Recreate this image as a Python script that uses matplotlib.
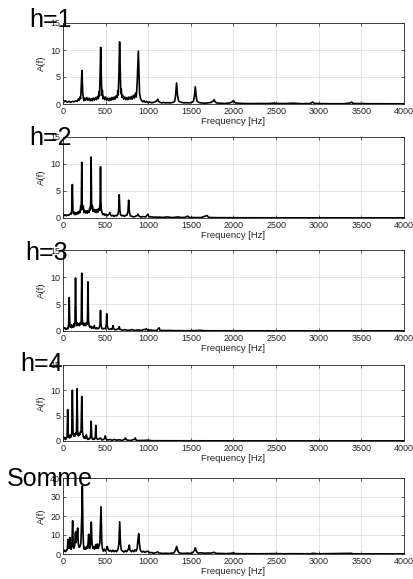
import matplotlib
matplotlib.use("Agg")
import matplotlib.pyplot as plt

plt.rcParams['font.family'] = ['Liberation Sans', 'DejaVu Sans']

# ---------------- data (frequency [Hz], amplitude) ----------------
h1_f = [0, 15, 30, 50, 70, 90, 110, 130, 150, 165, 180, 190, 200, 206, 212, 222, 232, 238, 245, 255,
        265, 280, 292, 305, 318, 330, 342, 355, 368, 380, 392, 405, 415, 422, 428, 433, 442, 451, 456, 462,
        468, 475, 488, 500, 512, 525, 538, 550, 562, 575, 588, 600, 612, 625, 636, 642, 648, 655, 664, 673,
        678, 684, 690, 700, 712, 725, 738, 750, 762, 775, 788, 800, 812, 825, 838, 850, 860, 864, 870, 884,
        892, 898, 904, 910, 920, 935, 950, 965, 980, 1000, 1020, 1040, 1060, 1080, 1100, 1110, 1120, 1140,
        1160, 1180, 1200, 1230, 1260, 1290, 1310, 1320, 1332, 1344, 1355, 1370, 1390, 1420, 1450, 1480,
        1510, 1530, 1542, 1552, 1562, 1572, 1590, 1620, 1660, 1700, 1740, 1765, 1772, 1780, 1800, 1850,
        1900, 1960, 1985, 1995, 2005, 2020, 2100, 2200, 2300, 2400, 2470, 2480, 2490, 2600, 2700, 2800,
        2900, 2930, 2950, 3100, 3300, 3370, 3385, 3400, 3600, 3800, 4000]
h1_a = [0.8, 0.4, 0.6, 0.3, 0.5, 0.3, 0.5, 0.4, 0.6, 0.5, 0.9, 0.7, 1.3, 1.0, 2.5, 6.2, 2.0, 1.2, 0.6, 1.1,
        0.7, 1.2, 0.7, 1.1, 0.6, 1.0, 0.6, 1.1, 0.7, 1.2, 0.8, 1.4, 1.0, 2.3, 1.5, 4.0, 10.5, 4.0, 1.6, 2.5,
        1.0, 1.4, 0.8, 1.3, 0.7, 1.1, 0.6, 1.1, 0.7, 1.2, 0.8, 1.3, 0.9, 1.5, 1.2, 2.5, 1.7, 5.0, 11.5, 5.0,
        2.0, 2.8, 1.2, 1.6, 0.9, 1.3, 0.8, 1.2, 0.8, 1.3, 0.9, 1.4, 0.9, 1.6, 1.1, 2.0, 1.3, 2.4, 4.0, 9.8,
        5.0, 2.0, 1.4, 1.0, 0.7, 0.4, 0.6, 0.3, 0.5, 0.2, 0.4, 0.2, 0.3, 0.4, 0.6, 0.9, 0.5, 0.3,
        0.2, 0.3, 0.2, 0.25, 0.2, 0.3, 0.5, 1.5, 3.9, 1.5, 0.6, 0.4, 0.3, 0.2, 0.25, 0.2,
        0.3, 0.5, 1.5, 3.2, 1.5, 0.5, 0.3, 0.2, 0.15, 0.2, 0.3, 0.6, 0.8, 0.5, 0.2, 0.15,
        0.1, 0.2, 0.4, 0.6, 0.5, 0.2, 0.1, 0.08, 0.1, 0.08, 0.15, 0.2, 0.1, 0.08, 0.15, 0.05,
        0.1, 0.35, 0.1, 0.05, 0.05, 0.2, 0.35, 0.1, 0.05, 0.03, 0.03]

h2_f = [0, 10, 25, 40, 55, 70, 85, 95, 102, 110, 116, 122, 132, 142, 152, 162, 172, 182, 192, 200,
        208, 214, 220, 226, 232, 238, 245, 255, 265, 275, 285, 295, 305, 314, 320, 325, 330, 335, 340, 346,
        352, 362, 372, 382, 392, 402, 412, 422, 430, 435, 440, 445, 450, 458, 468, 480, 492, 505, 518, 530,
        542, 550, 558, 570, 585, 600, 615, 630, 645, 653, 660, 667, 675, 690, 705, 720, 735, 750, 762, 770,
        778, 790, 810, 830, 850, 872, 880, 888, 910, 940, 970, 985, 995, 1005, 1030, 1080, 1130, 1180, 1230,
        1260, 1300, 1350, 1380, 1430, 1460, 1480, 1550, 1620, 1690, 1710, 1800, 2000, 2200, 2400, 2600,
        3000, 3500, 4000]
h2_a = [0.8, 0.4, 0.6, 0.4, 0.6, 0.5, 0.8, 0.7, 1.5, 6.2, 1.5, 0.8, 1.1, 0.6, 1.0, 0.7, 1.1, 0.8, 1.3, 1.0,
        2.3, 1.5, 10.3, 2.0, 1.6, 2.2, 1.0, 1.4, 0.9, 1.3, 0.9, 1.4, 1.0, 1.8, 1.5, 3.0, 11.3, 3.0, 1.7, 2.2,
        1.2, 1.6, 1.1, 1.5, 1.0, 1.6, 1.1, 1.8, 1.4, 3.0, 9.5, 3.0, 1.5, 1.0, 0.6, 0.8, 0.5, 0.7, 0.4, 0.6,
        0.7, 1.0, 0.6, 0.4, 0.5, 0.3, 0.5, 0.4, 0.7, 1.5, 4.3, 1.5, 0.6, 0.4, 0.5, 0.3, 0.5, 0.5, 1.2, 3.3,
        1.2, 0.4, 0.3, 0.2, 0.3, 0.5, 0.7, 0.4, 0.2, 0.25, 0.2, 0.5, 0.7, 0.3, 0.2, 0.15, 0.15, 0.12, 0.2,
        0.1, 0.1, 0.2, 0.1, 0.1, 0.35, 0.1, 0.08, 0.08, 0.45, 0.1, 0.06, 0.05, 0.04, 0.04, 0.03,
        0.03, 0.03, 0.03]

h3_f = [0, 10, 22, 35, 48, 58, 66, 73, 80, 86, 94, 102, 110, 118, 126, 134, 140, 147, 154, 160,
        168, 176, 184, 192, 200, 208, 214, 220, 226, 232, 240, 248, 256, 264, 272, 280, 287, 293, 299, 306,
        315, 325, 335, 345, 355, 362, 367, 373, 385, 395, 410, 425, 434, 440, 446, 455, 470, 485, 498, 507,
        513, 519, 530, 545, 560, 575, 582, 587, 592, 610, 630, 650, 660, 668, 700, 733, 760, 807, 840, 880,
        920, 953, 965, 977, 990, 1027, 1060, 1100, 1126, 1140, 1200, 1246, 1300, 1400, 1500, 1620, 1650,
        1800, 2000, 2500, 3000, 4000]
h3_a = [0.8, 0.4, 0.6, 0.3, 0.5, 0.4, 1.2, 6.2, 1.2, 0.7, 1.2, 0.6, 1.0, 0.7, 1.3, 0.8, 1.8, 9.8, 1.8, 1.0,
        1.5, 1.0, 1.4, 1.0, 1.5, 1.2, 2.0, 10.7, 2.0, 1.2, 1.5, 1.0, 1.4, 1.0, 1.5, 1.2, 2.0, 9.1, 2.0, 1.0,
        0.7, 0.9, 0.5, 0.7, 0.5, 0.8, 1.0, 0.6, 0.4, 0.6, 0.4, 0.6, 1.2, 3.8, 1.2, 0.5, 0.4, 0.5, 0.4, 1.0,
        3.2, 1.0, 0.4, 0.3, 0.4, 0.3, 0.7, 1.0, 0.5, 0.2, 0.3, 0.4, 0.8, 0.3, 0.15, 0.25, 0.1, 0.25, 0.1, 0.2,
        0.1, 0.3, 0.2, 0.45, 0.15, 0.2, 0.1, 0.1, 0.6, 0.1, 0.08, 0.1, 0.06, 0.05, 0.05, 0.12, 0.05,
        0.04, 0.04, 0.03, 0.03, 0.03]

h4_f = [0, 10, 20, 30, 40, 48, 55, 62, 70, 78, 86, 94, 102, 110, 118, 126, 134, 142, 150, 158,
        165, 172, 180, 188, 196, 204, 212, 220, 228, 236, 244, 252, 260, 268, 275, 282, 292, 302, 312, 322,
        330, 338, 348, 358, 368, 378, 385, 392, 405, 420, 440, 455, 475, 490, 497, 504, 525, 550, 575, 605,
        630, 660, 690, 720, 733, 745, 790, 835, 847, 860, 920, 990, 1050, 1200, 1500, 2000, 3000, 4000]
h4_a = [0.8, 0.4, 0.7, 0.3, 0.6, 0.8, 6.2, 0.8, 1.1, 0.6, 1.2, 0.8, 1.5, 10.0, 1.5, 0.9, 1.4, 1.0, 1.6, 1.4,
        10.3, 1.6, 1.0, 1.5, 1.2, 1.8, 1.8, 8.8, 1.8, 1.0, 0.6, 0.8, 0.5, 0.8, 1.2, 0.5, 0.3, 0.5, 0.4, 0.8,
        3.9, 0.7, 0.3, 0.5, 0.3, 0.7, 3.1, 0.6, 0.3, 0.4, 0.6, 0.2, 0.3, 0.6, 1.0, 0.4, 0.2, 0.3, 0.15, 0.3,
        0.15, 0.25, 0.1, 0.3, 0.6, 0.2, 0.1, 0.3, 0.6, 0.1, 0.1, 0.15, 0.06, 0.05, 0.04, 0.03, 0.03, 0.03]

sum_f = [0, 10, 20, 30, 40, 50, 59, 66, 72, 82, 88, 95, 103, 113, 120, 128, 137, 147, 152, 156,
         162, 172, 180, 190, 200, 210, 220, 227, 234, 240, 248, 258, 268, 280, 290, 301, 308, 316, 324, 332,
         340, 350, 360, 370, 385, 395, 403, 412, 422, 432, 446, 455, 462, 472, 485, 497, 510, 520, 530, 542,
         555, 570, 585, 600, 615, 630, 645, 655, 665, 675, 685, 700, 715, 730, 745, 760, 770, 778, 786, 800,
         815, 830, 845, 858, 870, 878, 888, 896, 904, 915, 930, 945, 960, 975, 990, 1005, 1020, 1040, 1060,
         1080, 1100, 1110, 1120, 1150, 1180, 1210, 1240, 1270, 1300, 1320, 1333, 1345, 1360, 1390, 1420,
         1460, 1490, 1520, 1540, 1552, 1564, 1580, 1620, 1660, 1700, 1740, 1772, 1800, 1850, 1900, 1960,
         2000, 2020, 2100, 2300, 2480, 2600, 2700, 2900, 2930, 3000, 3380, 3400, 4000]
sum_a = [2.5, 1.5, 2.0, 1.2, 1.8, 2.5, 7.7, 4.0, 3.0, 8.6, 3.0, 2.5, 4.0, 17.5, 4.0, 3.0, 4.5, 11.5, 6.0, 11.8,
         7.0, 13.7, 5.0, 3.5, 4.0, 6.0, 20.0, 35.8, 12.0, 5.0, 2.5, 3.5, 2.5, 4.0, 3.0, 10.4, 4.0, 3.0, 6.0, 16.8,
         6.0, 3.0, 3.8, 2.5, 5.0, 3.0, 5.3, 3.0, 4.0, 6.0, 24.9, 6.0, 3.0, 1.5, 2.5, 1.5, 2.5, 4.0, 2.0, 1.5,
         2.0, 1.2, 2.0, 1.2, 1.8, 1.2, 2.5, 5.0, 17.0, 5.0, 2.0, 1.5, 1.0, 1.8, 1.2, 2.0, 3.0, 4.7, 2.0, 1.2,
         1.8, 1.2, 2.2, 1.5, 3.0, 7.0, 10.7, 6.0, 2.5, 1.5, 1.0, 1.5, 0.8, 1.2, 1.5, 1.2, 0.6, 0.8, 0.4,
         0.6, 0.8, 1.2, 0.6, 0.4, 0.3, 0.4, 0.3, 0.4, 0.6, 2.0, 4.0, 2.0, 0.6, 0.4, 0.3,
         0.5, 0.3, 0.6, 1.8, 3.3, 1.5, 0.5, 0.6, 0.4, 0.5, 0.5, 0.9, 0.3, 0.3, 0.2, 0.3,
         0.6, 0.2, 0.15, 0.1, 0.2, 0.1, 0.15, 0.1, 0.35, 0.1, 0.35, 0.1, 0.05]

titles = ["h=1", "h=2", "h=3", "h=4", "Somme"]
series = [(h1_f, h1_a), (h2_f, h2_a), (h3_f, h3_a), (h4_f, h4_a), (sum_f, sum_a)]
ylims = [15, 15, 15, 15, 40]
yticks = [[0, 5, 10, 15]] * 4 + [[0, 10, 20, 30, 40]]
xticks = [0, 500, 1000, 1500, 2000, 2500, 3000, 3500, 4000]

# ---------------- layout (pixels) ----------------
W, H = 414, 579
fig = plt.figure(figsize=(W / 100, H / 100), dpi=100)
ax_left, ax_right = 63, 404
panels_px = [(23, 104), (137, 218), (250, 331), (365, 441), (478, 554)]
title_px = [(29, 27), (29, 145), (25, 260), (20, 371), (7, 486)]

tc = '#262626'
for i, ((f, a), (top, bot)) in enumerate(zip(series, panels_px)):
    ax = fig.add_axes([ax_left / W, 1 - bot / H, (ax_right - ax_left) / W, (bot - top) / H])
    ax.plot(f, a, color='black', lw=1.2)
    ax.set_xlim(0, 4000)
    ax.set_ylim(0, ylims[i])
    ax.set_xticks(xticks)
    ax.set_yticks(yticks[i])
    ax.grid(True, color='#e0e0e0', lw=0.6)
    ax.set_axisbelow(True)
    ax.tick_params(direction='in', top=True, right=True, length=2.5, width=0.5,
                   labelsize=6.5, colors=tc, pad=2)
    for sp in ax.spines.values():
        sp.set_color('#262626')
        sp.set_linewidth(0.6)
    ax.set_xlabel('Frequency [Hz]', fontsize=6.8, color=tc, labelpad=1)
    ax.set_ylabel('A(f)', fontsize=6.8, color=tc, labelpad=3)
    tx, ty = title_px[i]
    fig.text(tx / W, 1 - ty / H, titles[i], fontsize=18, ha='left', va='baseline', color='black')

fig.savefig('out.png', dpi=100)
